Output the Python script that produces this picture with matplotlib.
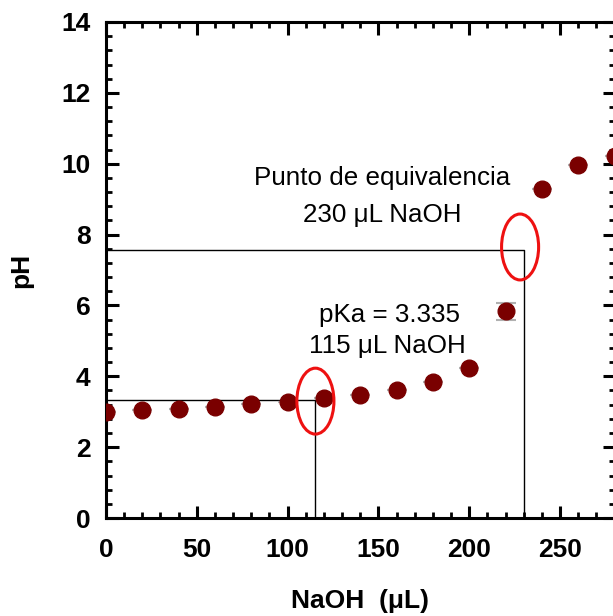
import matplotlib.pyplot as plt
from matplotlib.patches import Ellipse
from matplotlib.ticker import MultipleLocator

plt.rcParams['font.family'] = ['Liberation Sans', 'DejaVu Sans']

# titration data
naoh_ul = [0, 20, 40, 60, 80, 100, 120, 140, 160, 180, 200, 220, 240, 260, 280]
ph = [3.00, 3.05, 3.08, 3.14, 3.21, 3.27, 3.39, 3.47, 3.61, 3.84, 4.24, 5.83, 9.29, 9.96, 10.23]
ph_err = [0, 0, 0, 0, 0, 0, 0, 0, 0, 0, 0, 0.24, 0, 0, 0]

# half-equivalence and equivalence points
pka_vol, pka = 115, 3.335
eq_vol, eq_ph = 230, 7.56

fig = plt.figure(figsize=(6.13, 6.16), dpi=100)
ax = fig.add_axes([0.1729, 0.159, 0.8296, 0.8053])

ax.errorbar(naoh_ul, ph, yerr=ph_err, fmt='none', ecolor='#b0b0b0',
            elinewidth=1.2, capsize=7, capthick=1.5, zorder=2)
ax.plot(naoh_ul, ph, 'o', color='#7a0000', markersize=12, zorder=3)

# guide lines to the axes
ax.plot([0, pka_vol, pka_vol], [pka, pka, 0], color='black', lw=1.0, zorder=1)
ax.plot([0, eq_vol, eq_vol], [eq_ph, eq_ph, 0], color='black', lw=1.0, zorder=1)

ax.add_patch(Ellipse((115.3, 3.3), 20.4, 1.86, fill=False, edgecolor='#ee1111', lw=2.2, zorder=4))
ax.add_patch(Ellipse((228, 7.65), 20.4, 1.86, fill=False, edgecolor='#ee1111', lw=2.2, zorder=4))

ax.text(152, 9.6, 'Punto de equivalencia', fontsize=18.7, ha='center', va='center')
ax.text(152, 8.55, '230 μL NaOH', fontsize=18.7, ha='center', va='center')
ax.text(156, 5.73, 'pKa = 3.335', fontsize=18.7, ha='center', va='center')
ax.text(155, 4.85, '115 μL NaOH', fontsize=18.7, ha='center', va='center')

ax.set_xlim(0, 280)
ax.set_ylim(0, 14)
ax.xaxis.set_major_locator(MultipleLocator(50))
ax.xaxis.set_minor_locator(MultipleLocator(10))
ax.yaxis.set_major_locator(MultipleLocator(2))
ax.yaxis.set_minor_locator(MultipleLocator(0.4))

for s in ax.spines.values():
    s.set_linewidth(2.2)
ax.tick_params(which='both', direction='in', top=True, right=True)
ax.tick_params(which='major', length=9, width=2.2, labelsize=19)
ax.tick_params(axis='x', which='major', pad=14)
ax.tick_params(axis='y', which='major', pad=11)
ax.tick_params(which='minor', length=4.5, width=2.0)
for lab in ax.get_xticklabels() + ax.get_yticklabels():
    lab.set_fontweight('bold')

ax.set_xlabel('NaOH  (μL)', fontsize=19, fontweight='bold', labelpad=20)
ax.set_ylabel('pH', fontsize=19, fontweight='bold', labelpad=20)

fig.savefig('out.png', dpi=100)
